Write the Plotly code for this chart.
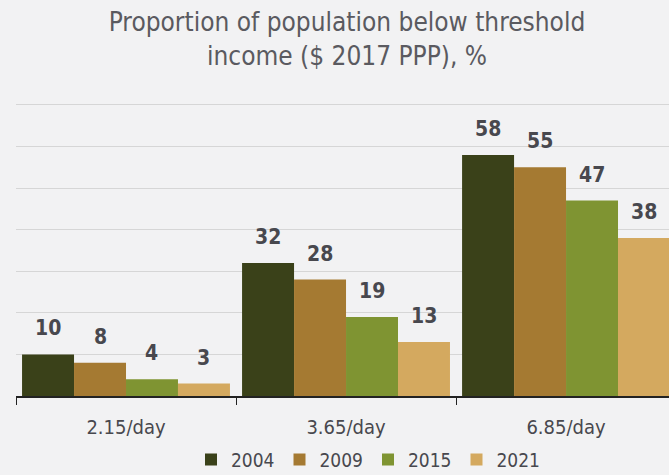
import plotly.graph_objects as go

categories = ["2.15/day", "3.65/day", "6.85/day"]
years = ["2004", "2009", "2015", "2021"]
v2004 = [10, 32, 58]
v2009 = [8, 28, 55]
v2015 = [4, 19, 47]
v2021 = [3, 13, 38]
series = [v2004, v2009, v2015, v2021]
colors = ["#3a4119", "#a57a32", "#7f9432", "#d4a95f"]

FONT = "DejaVu Sans Condensed, Liberation Sans Narrow, sans-serif"
TXT = "#48484e"

W, H = 669, 475
ml, mr, mt, mb = 16, 0, 100, 79
xrange_ = [-0.5, 2.468]
bargap = 0.055

fig = go.Figure()
for name, vals, c in zip(years, series, colors):
    fig.add_trace(go.Bar(name=name, x=categories, y=vals, marker=dict(color=c, line=dict(width=0))))

plot_w = W - ml - mr
cat_px = plot_w / (xrange_[1] - xrange_[0])
bar_px = cat_px * (1 - bargap) / len(years)
ann = []
for i, vals in enumerate(series):
    for cat, v in zip(categories, vals):
        ann.append(dict(x=cat, y=v, text="<b>%d</b>" % v, showarrow=False, xref="x", yref="y",
                        xshift=(i - 1.5) * bar_px, yshift=12, yanchor="bottom",
                        font=dict(family=FONT, size=21, color=TXT)))

fig.update_layout(
    width=W, height=H,
    margin=dict(l=ml, r=mr, t=mt, b=mb, autoexpand=False),
    paper_bgcolor="#f2f2f3", plot_bgcolor="#f2f2f3",
    barmode="group", bargap=bargap, bargroupgap=0,
    title=dict(text="Proportion of population below threshold<br>income ($ 2017 PPP), %",
               x=347 / W, xanchor="center", xref="container",
               y=1 - 31 / H, yanchor="middle", yref="container",
               font=dict(family=FONT, size=26, color="#5a5a60")),
    annotations=ann,
    showlegend=True,
    legend=dict(orientation="h", x=(368 - ml) / plot_w, xanchor="center", y=-0.215, yanchor="middle",
                font=dict(family=FONT, size=19, color=TXT), bgcolor="rgba(0,0,0,0)",
                itemwidth=30, traceorder="normal"),
    xaxis=dict(range=xrange_, showline=True, linecolor="#222", linewidth=1.5,
               ticks="outside", tickson="boundaries", ticklen=7, tickcolor="#222",
               ticklabelstandoff=12,
               tickfont=dict(family=FONT, size=20, color=TXT), showgrid=False),
    yaxis=dict(range=[0, 71.2], tickvals=[10, 20, 30, 40, 50, 60, 70], showgrid=True,
               gridcolor="#d6d6d6", gridwidth=1,
               showticklabels=False, zeroline=False, ticks=""),
)
fig.write_html("out.html", post_script="document.body.style.margin='0';",
               config={"displayModeBar": False})
